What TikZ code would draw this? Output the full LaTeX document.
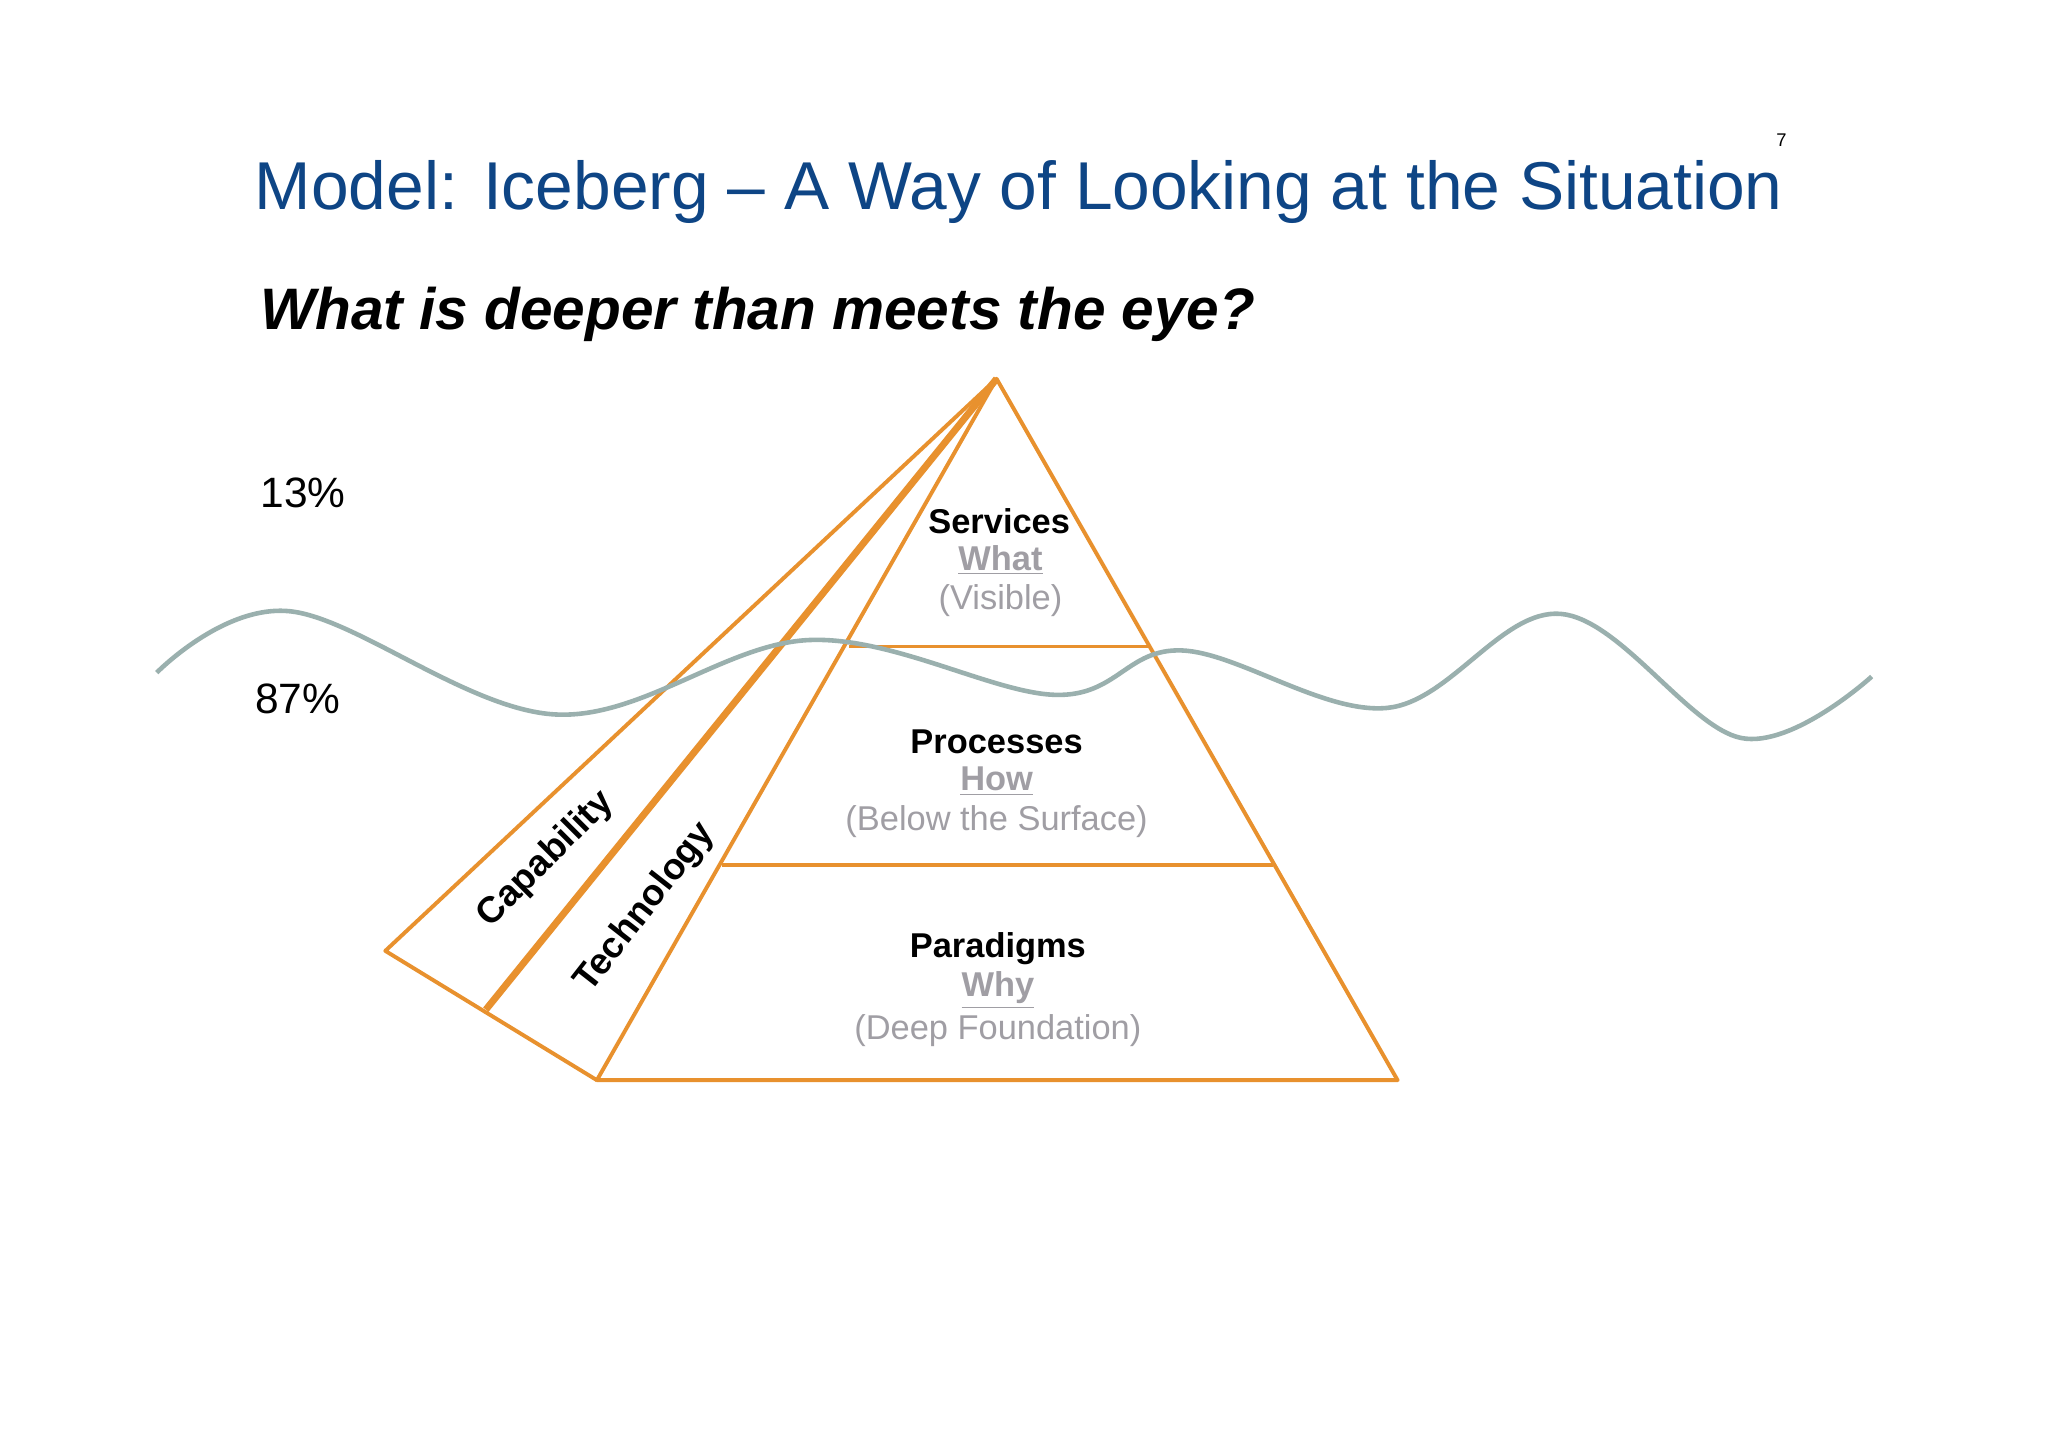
\documentclass[tikz,border=0pt]{standalone}
\usepackage{fontspec}
\setmainfont{Liberation Sans}
\begin{document}
\begin{tikzpicture}[x=0.02cm,y=-0.02cm,
  org/.style={draw=orng,line width=1.7pt,line join=round},
  lbl/.style={font=\fontsize{15}{17}\selectfont\bfseries},
  sub/.style={font=\fontsize{15}{17}\selectfont,text=gry},
  pct/.style={font=\fontsize{18.5}{20}\selectfont}]
\definecolor{orng}{HTML}{E8912E}
\definecolor{gry}{HTML}{A09EA4}
\definecolor{wave}{HTML}{9AB0AE}
\definecolor{ttl}{HTML}{0E4585}
\fill[white] (0,0) rectangle (1568,1108);
\useasboundingbox (0,0) rectangle (1568,1108);
\node[font=\fontsize{8}{9}\selectfont] (pg) at (1364,107) {7};
\node[font=\fontsize{29.5}{33}\selectfont,text=ttl] (title) at (780,147) {Model: Iceberg -- A Way of Looking at the Situation};
\node[anchor=west,font=\fontsize{25.5}{28}\selectfont\bfseries\itshape] (subt) at (193,241) {What is deeper than meets the eye?};
\node[pct] (p13) at (232,377) {13\%};
\node[pct] (p87) at (228,535) {87\%};
% pyramid
\coordinate (A) at (763,290);
\coordinate (BR) at (1070,827);
\coordinate (BL) at (457,827);
\coordinate (L) at (295,728);
\coordinate (M) at (372,773);
\draw[org] (A) -- (BR) -- (BL) -- cycle;
\draw[org] (A) -- (L) -- (BL);
\draw[draw=orng,line width=3pt] (A) -- (M);
\draw[org] (650,495) -- (880,495);
\draw[org] (553,662) -- (975,662);
% wave
\draw[wave,line width=2pt] plot[smooth,tension=0.6] coordinates {(120,515) (222,468) (425,547) (620,490) (808,532) (905,498) (1062,542) (1195,470) (1333,565) (1433,518)};
% labels
\node[lbl] (s1) at (765,399) {Services};
\node[sub,font=\fontsize{15}{17}\selectfont\bfseries] (s2) at (766,429) {\underline{What}};
\node[sub] (s3) at (766,460) {(Visible)};
\node[lbl] (r1) at (763,568) {Processes};
\node[sub,font=\fontsize{15}{17}\selectfont\bfseries] (r2) at (763,598) {\underline{How}};
\node[sub] (r3) at (763,629) {(Below the Surface)};
\node[lbl] (d1) at (764,726) {Paradigms};
\node[sub,font=\fontsize{15}{17}\selectfont\bfseries] (d2) at (764,758) {\underline{Why}};
\node[sub] (d3) at (764,789) {(Deep Foundation)};
\node[lbl,rotate=45,font=\fontsize{16}{18}\selectfont\bfseries] (cap) at (418,658) {Capability};
\node[lbl,rotate=52,font=\fontsize{16}{18}\selectfont\bfseries] (tech) at (494,695) {Technology};
\end{tikzpicture}
\end{document}
